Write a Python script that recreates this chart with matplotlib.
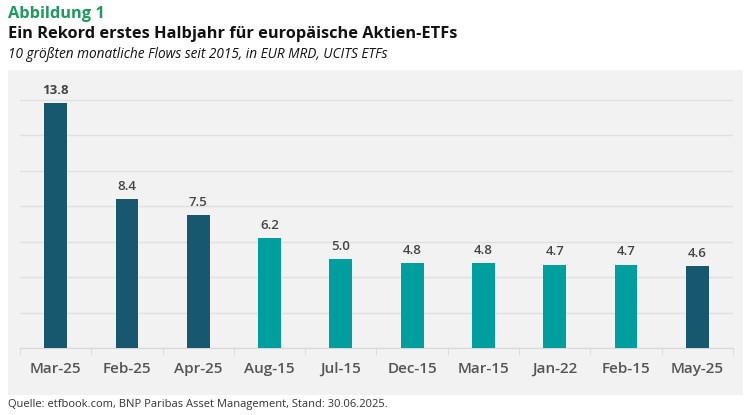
import numpy as np
import matplotlib
matplotlib.use('Agg')
import matplotlib.pyplot as plt
from matplotlib.patches import Rectangle

# ── Data ────────────────────────────────────────────────────────────────
months = ['Mar-25', 'Feb-25', 'Apr-25', 'Aug-15', 'Jul-15',
          'Dec-15', 'Mar-15', 'Jan-22', 'Feb-15', 'May-25']
flows  = [13.8, 8.4, 7.5, 6.2, 5.0, 4.8, 4.8, 4.7, 4.7, 4.6]
is_2025 = [True, True, True, False, False, False, False, False, False, True]

DARK  = '#18586f'
TEAL  = '#009f9f'
GREEN = '#1d9a5c'
PANEL = '#f2f2f2'

plt.rcParams['font.family'] = ['Open Sans', 'DejaVu Sans']

fig = plt.figure(figsize=(7.5, 4.15), dpi=100)
fig.patch.set_facecolor('white')

# grey panel behind the chart
fig.patches.append(Rectangle((8/750, 1 - 395/415), 735/750, 325/415,
                             transform=fig.transFigure, facecolor=PANEL,
                             edgecolor='none', zorder=-5))

fig.text(8/750, 1 - 14/415, 'Abbildung 1', fontsize=11.8, fontweight='bold',
         color=GREEN, va='center')
fig.text(8/750, 1 - 34/415, 'Ein Rekord erstes Halbjahr für europäische Aktien-ETFs',
         fontsize=11.8, fontweight='bold', color='#111111', va='center')
fig.text(8/750, 1 - 54/415, '10 größten monatliche Flows seit 2015, in EUR MRD, UCITS ETFs',
         fontsize=9.8, style='italic', color='#111111', va='center')
fig.text(8/750, 1 - 404/415,
         'Quelle: etfbook.com, BNP Paribas Asset Management, Stand: 30.06.2025.',
         fontsize=8, color='#333333', va='center')

ax = fig.add_axes([20/750, 1 - 348/415, 713/750, 275/415])
ax.set_facecolor('none')
ax.set_zorder(2)

x = np.arange(len(months))
colors = [DARK if f else TEAL for f in is_2025]
ax.bar(x, flows, width=0.32, color=colors, zorder=3)

for i, v in enumerate(flows):
    ax.text(i, v + 0.35, f'{v:.1f}', ha='center', va='bottom', fontsize=9.5,
            color='#444444', fontweight='bold' if i == 0 else 'semibold')

ax.set_xlim(-0.5, len(months) - 0.5)
ax.set_ylim(0, 15.5)
ax.set_yticks(np.arange(0, 15, 2))
ax.yaxis.grid(True, color='#e0e0e0', lw=1)
ax.set_axisbelow(True)
ax.tick_params(axis='y', left=False, labelleft=False)

ax.set_xticks(x)
ax.set_xticklabels(months, fontsize=11, color='#555555', fontweight='semibold')
ax.set_xticks(np.arange(-0.5, len(months)), minor=True)
ax.tick_params(axis='x', which='major', length=0, pad=10)
ax.tick_params(axis='x', which='minor', length=5, color='#d8d8d8')

for s in ['top', 'right', 'left']:
    ax.spines[s].set_visible(False)
ax.spines['bottom'].set_color('#d8d8d8')

plt.savefig('out.png', dpi=100)
